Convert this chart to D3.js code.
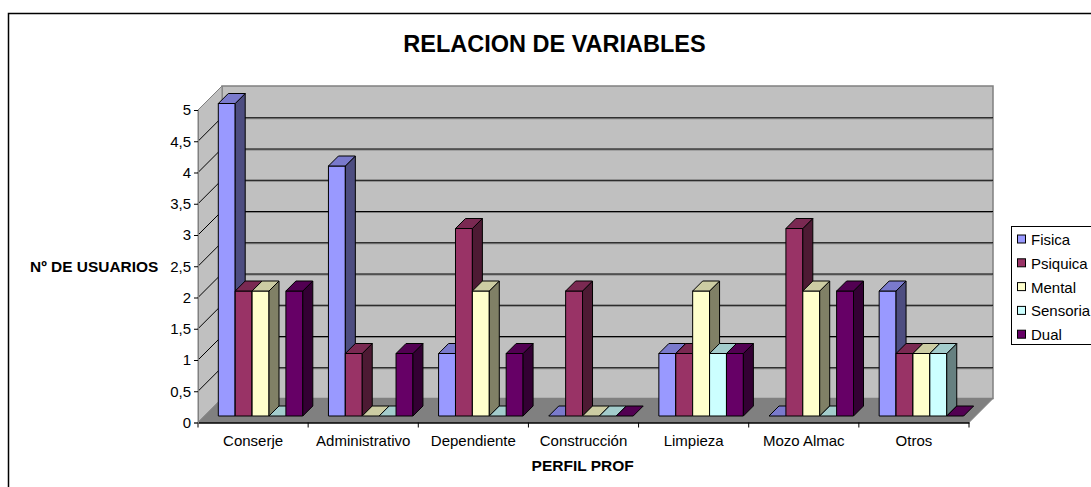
<!DOCTYPE html>
<html><head><meta charset="utf-8">
<style>html,body{margin:0;padding:0;background:#fff;overflow:hidden}svg{display:block}text{font-family:"Liberation Sans",Arial,sans-serif;fill:#000}</style>
<script src="https://cdn.jsdelivr.net/npm/d3@7"></script></head><body>
<svg id="c" width="1091" height="487"></svg>
<script>
const categories = ["Conserje","Administrativo","Dependiente","Construcción","Limpieza","Mozo Almac","Otros"];
const seriesNames = ["Fisica","Psiquica","Mental","Sensoria","Dual"];
const fisica = [5,4,1,0,1,0,2];
const psiquica = [2,1,3,2,1,3,1];
const mental = [2,0,2,0,2,2,1];
const sensorial = [0,0,0,0,1,0,1];
const dual = [2,1,1,0,1,2,0];
const yTicks = [0,0.5,1,1.5,2,2.5,3,3.5,4,4.5,5];
const colors = ["#9999FF","#993366","#FFFFCC","#CCFFFF","#660066"];

const allSeries = [fisica,psiquica,mental,sensorial,dual];
const svg = d3.select("#c");
const left=198, right=969, depth=24, barDepth=10, barShift=6.5;
const x = d3.scaleBand().domain(categories).range([left,right]);
const y = d3.scaleLinear().domain([0,5]).range([422.5,110]);
const inner = d3.scaleBand().domain(seriesNames).range([20.3,20.3+84.5]);
const comma = d3.format(".1f");
const fmt = v => Number.isInteger(v) ? String(v) : comma(v).replace(".",",");
const poly = pts => pts.map(p=>p.join(",")).join(" ");

// chart frame: open at right and bottom
svg.append("path").attr("d","M8.5,487V13.5H1091").attr("fill","none").attr("stroke","#000").attr("stroke-width",1.5);

svg.append("text").attr("x",554.5).attr("y",52).attr("text-anchor","middle")
  .attr("font-size",23.5).attr("font-weight","bold").text("RELACION DE VARIABLES");

// walls and floor
const y0=y(0), y5=y(5);
svg.append("polygon").attr("points",poly([[left+depth,y5-depth],[right+depth,y5-depth],[right+depth,y0-depth],[left+depth,y0-depth]]))
  .attr("fill","#C0C0C0").attr("stroke","#808080").attr("stroke-width",1.5);
svg.append("polygon").attr("points",poly([[left,y5],[left+depth,y5-depth],[left+depth,y0-depth],[left,y0]]))
  .attr("fill","#C0C0C0").attr("stroke","#808080");
svg.append("polygon").attr("points",poly([[left,y0],[right,y0],[right+depth,y0-depth],[left+depth,y0-depth]]))
  .attr("fill","#808080").attr("stroke","#808080");

// gridlines
const grid = yTicks.filter(t=>t>0&&t<5);
const g = svg.append("g");
g.selectAll("line.s").data(grid).join("line").attr("class","s").attr("x1",left+depth).attr("x2",right+depth)
  .attr("y1",d=>y(d)-depth+1.5).attr("y2",d=>y(d)-depth+1.5).attr("stroke","#808080");
g.selectAll("line.b").data(grid).join("line").attr("class","b").attr("x1",left+depth).attr("x2",right+depth)
  .attr("y1",d=>y(d)-depth+.5).attr("y2",d=>y(d)-depth+.5).attr("stroke","#000");
g.selectAll("line.d").data(grid).join("line").attr("class","d").attr("x1",left).attr("x2",left+depth)
  .attr("y1",d=>y(d)).attr("y2",d=>y(d)-depth).attr("stroke","#000");

// bars
const shade=(c,k)=>{const r=d3.rgb(c);return d3.rgb(r.r*k,r.g*k,r.b*k).formatHex();};
const bars = svg.append("g").attr("stroke","#000").attr("stroke-width",1).attr("stroke-linejoin","round");
categories.forEach((cat,ci)=>{
  seriesNames.forEach((name,si)=>{
    const v=allSeries[si][ci], c=colors[si];
    const bx=x(cat)+inner(name), w=inner.bandwidth();
    const b=y(0)-barShift, t=y(v)-barShift, D=barDepth;
    if(v>0){
      bars.append("polygon").attr("points",poly([[bx,t],[bx+w,t],[bx+w,b],[bx,b]])).attr("fill",c);
      bars.append("polygon").attr("points",poly([[bx+w,t],[bx+w+D,t-D],[bx+w+D,b-D],[bx+w,b]])).attr("fill",shade(c,.5));
    }
    bars.append("polygon").attr("points",poly([[bx,t],[bx+w,t],[bx+w+D,t-D],[bx+D,t-D]])).attr("fill",shade(c,.8));
  });
});

// axes
const ax = svg.append("g").attr("transform",`translate(0,${y0})`)
  .call(d3.axisBottom(x).tickValues([]).tickSizeOuter(0));
ax.select(".domain").attr("stroke","#000").attr("stroke-width",1.5);
svg.append("g").selectAll("line").data(d3.range(categories.length+1)).join("line")
  .attr("x1",i=>left+i*x.bandwidth()).attr("x2",i=>left+i*x.bandwidth())
  .attr("y1",y0).attr("y2",y0+5).attr("stroke","#000");
svg.append("g").selectAll("text").data(categories).join("text")
  .attr("x",d=>x(d)+x.bandwidth()/2).attr("y",446).attr("text-anchor","middle").attr("font-size",15).text(d=>d);
const ay = svg.append("g").attr("transform",`translate(${left},0)`)
  .call(d3.axisLeft(y).tickValues(yTicks).tickFormat(fmt).tickSize(4).tickPadding(3));
ay.select(".domain").attr("stroke","#808080");
ay.selectAll("text").attr("font-size",15).attr("font-family",'"Liberation Sans",Arial,sans-serif').attr("fill","#000");
ay.selectAll("line").attr("stroke","#000");

svg.append("text").attr("x",582.7).attr("y",471).attr("text-anchor","middle").attr("font-size",15.5).attr("font-weight","bold").text("PERFIL PROF");
svg.append("text").attr("x",30).attr("y",272).attr("font-size",15.45).attr("font-weight","bold").text("Nº DE USUARIOS");

// legend
svg.append("rect").attr("x",1011.5).attr("y",226.5).attr("width",100).attr("height",118).attr("fill","#fff").attr("stroke","#000");
const lg = svg.append("g").selectAll("g").data(seriesNames).join("g")
  .attr("transform",(d,i)=>`translate(1017,${239.5+i*23.8})`);
lg.append("rect").attr("x",.5).attr("y",-4.5).attr("width",8).attr("height",8).attr("fill",(d,i)=>colors[i]).attr("stroke","#000");
lg.append("text").attr("x",14).attr("y",5.5).attr("font-size",15).text(d=>d);
</script></body></html>
